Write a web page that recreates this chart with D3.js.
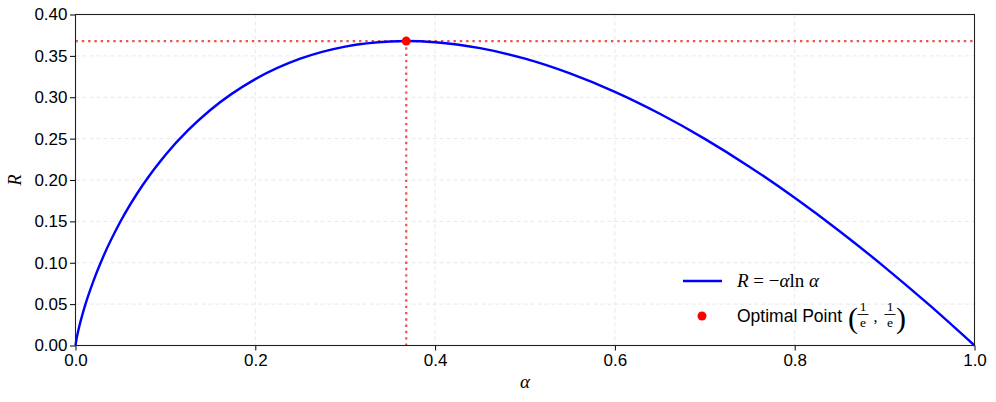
<!DOCTYPE html>
<html><head><meta charset="utf-8">
<script src="https://cdn.jsdelivr.net/npm/d3@7"></script>
<style>body{margin:0;background:#fff}svg{display:block}</style>
</head><body><svg id="c" width="996" height="402"></svg>
<script>
// Curve samples
const alphaVals = [0, 0.001, 0.003, 0.005, 0.01, 0.02, 0.03, 0.05, 0.075, 0.1, 0.125, 0.15, 0.2, 0.25, 0.3, 0.35, 0.3679, 0.4, 0.45, 0.5, 0.55, 0.6, 0.65, 0.7, 0.75, 0.8, 0.85, 0.9, 0.95, 1.0];
const rVals = [0, 0.0069, 0.0174, 0.0265, 0.0461, 0.0782, 0.1052, 0.1498, 0.1943, 0.2303, 0.2599, 0.2846, 0.3219, 0.3466, 0.3612, 0.3674, 0.3679, 0.3665, 0.3593, 0.3466, 0.3288, 0.3065, 0.2800, 0.2497, 0.2158, 0.1785, 0.1381, 0.0948, 0.0487, 0];
const optimal = [0.3679, 0.3679];
const xTicks = [0.0, 0.2, 0.4, 0.6, 0.8, 1.0];
const yTicks = [0.00, 0.05, 0.10, 0.15, 0.20, 0.25, 0.30, 0.35, 0.40];

const svg = d3.select("#c");
const L = 75.5, R = 974.5, T = 14.5, B = 345.5;
const x = d3.scaleLinear().domain([0, 1]).range([L, R]);
const y = d3.scaleLinear().domain([0, 0.4]).range([B, T]);
const tickFont = "'Liberation Sans', Arial, sans-serif";
const mathFont = "'Liberation Serif', 'DejaVu Serif', serif";

// grid
const g = svg.append("g");
g.selectAll(".gx").data(xTicks).join("line")
  .attr("x1", d => x(d)).attr("x2", d => x(d)).attr("y1", T).attr("y2", B)
  .attr("stroke", "#e2e2e2").attr("stroke-width", 0.8).attr("stroke-dasharray", "4,3");
g.selectAll(".gy").data(yTicks).join("line")
  .attr("y1", d => y(d)).attr("y2", d => y(d)).attr("x1", L).attr("x2", R)
  .attr("stroke", "#e2e2e2").attr("stroke-width", 0.8).attr("stroke-dasharray", "4,3");

// reference lines
const refStyle = sel => sel.attr("stroke", "#e8372c").attr("stroke-opacity", 0.85).attr("stroke-width", 2.2).attr("stroke-dasharray", "2.4,3.9");
svg.append("line").attr("x1", L).attr("x2", R).attr("y1", y(optimal[1])).attr("y2", y(optimal[1])).call(refStyle);
svg.append("line").attr("x1", x(optimal[0])).attr("x2", x(optimal[0])).attr("y1", y(optimal[1])).attr("y2", B).call(refStyle);

// curve
const pts = alphaVals.map((a, i) => [a, rVals[i]]);
svg.append("path").datum(pts)
  .attr("d", d3.line().x(d => x(d[0])).y(d => y(d[1])).curve(d3.curveMonotoneX))
  .attr("fill", "none").attr("stroke", "#0000ff").attr("stroke-width", 2.4);

svg.append("circle").attr("cx", x(optimal[0])).attr("cy", y(optimal[1])).attr("r", 4.5).attr("fill", "#ff0000");

// axes
const xAxis = svg.append("g").attr("transform", `translate(0,${B})`)
  .call(d3.axisBottom(x).tickValues(xTicks).tickFormat(d3.format(".1f")).tickSize(5).tickPadding(3));
const yAxis = svg.append("g").attr("transform", `translate(${L},0)`)
  .call(d3.axisLeft(y).tickValues(yTicks).tickFormat(d3.format(".2f")).tickSize(5.5).tickPadding(2.5));
[xAxis, yAxis].forEach(a => {
  a.select(".domain").remove();
  a.selectAll(".tick line").attr("stroke", "#000").attr("stroke-width", 1);
  a.selectAll(".tick text").attr("fill", "#000").style("font-family", tickFont).style("font-size", "17px");
});
// spines
svg.append("rect").attr("x", L).attr("y", T).attr("width", R - L).attr("height", B - T)
  .attr("fill", "none").attr("stroke", "#222").attr("stroke-width", 1.1);

// axis labels
svg.append("text").attr("x", (L + R) / 2).attr("y", 388).attr("text-anchor", "middle")
  .style("font-family", mathFont).style("font-style", "italic").style("font-size", "19px").text("α");
svg.append("text").attr("transform", `translate(20.5,${(T + B) / 2}) rotate(-90)`).attr("text-anchor", "middle")
  .style("font-family", mathFont).style("font-style", "italic").style("font-size", "18px").text("R");

// legend
const lg = svg.append("g");
lg.append("line").attr("x1", 683).attr("x2", 722).attr("y1", 281).attr("y2", 281)
  .attr("stroke", "#0000ff").attr("stroke-width", 2.4);
const t1 = lg.append("text").attr("x", 737).attr("y", 287).style("font-family", mathFont).style("font-size", "19px");
t1.append("tspan").style("font-style", "italic").text("R");
t1.append("tspan").text(" = −");
t1.append("tspan").style("font-style", "italic").text("α");
t1.append("tspan").text("ln ");
t1.append("tspan").style("font-style", "italic").text("α");

lg.append("circle").attr("cx", 702).attr("cy", 316).attr("r", 4.5).attr("fill", "#ff0000");
lg.append("text").attr("x", 737).attr("y", 322).style("font-family", tickFont).style("font-size", "17.5px").text("Optimal Point");
const frac = (cx, grp) => {
  grp.append("text").attr("x", cx).attr("y", 311).attr("text-anchor", "middle").style("font-family", mathFont).style("font-size", "13.5px").text("1");
  grp.append("line").attr("x1", cx - 5.5).attr("x2", cx + 5.5).attr("y1", 314.5).attr("y2", 314.5).attr("stroke", "#000").attr("stroke-width", 0.9);
  grp.append("text").attr("x", cx).attr("y", 326.5).attr("text-anchor", "middle").style("font-family", mathFont).style("font-size", "13.5px").text("e");
};
lg.append("text").attr("x", 848).attr("y", 328).style("font-family", mathFont).style("font-size", "30px").text("(");
frac(863, lg);
lg.append("text").attr("x", 873.5).attr("y", 322).style("font-family", mathFont).style("font-size", "16px").text(",");
frac(890, lg);
lg.append("text").attr("x", 896).attr("y", 328).style("font-family", mathFont).style("font-size", "30px").text(")");
</script></body></html>
